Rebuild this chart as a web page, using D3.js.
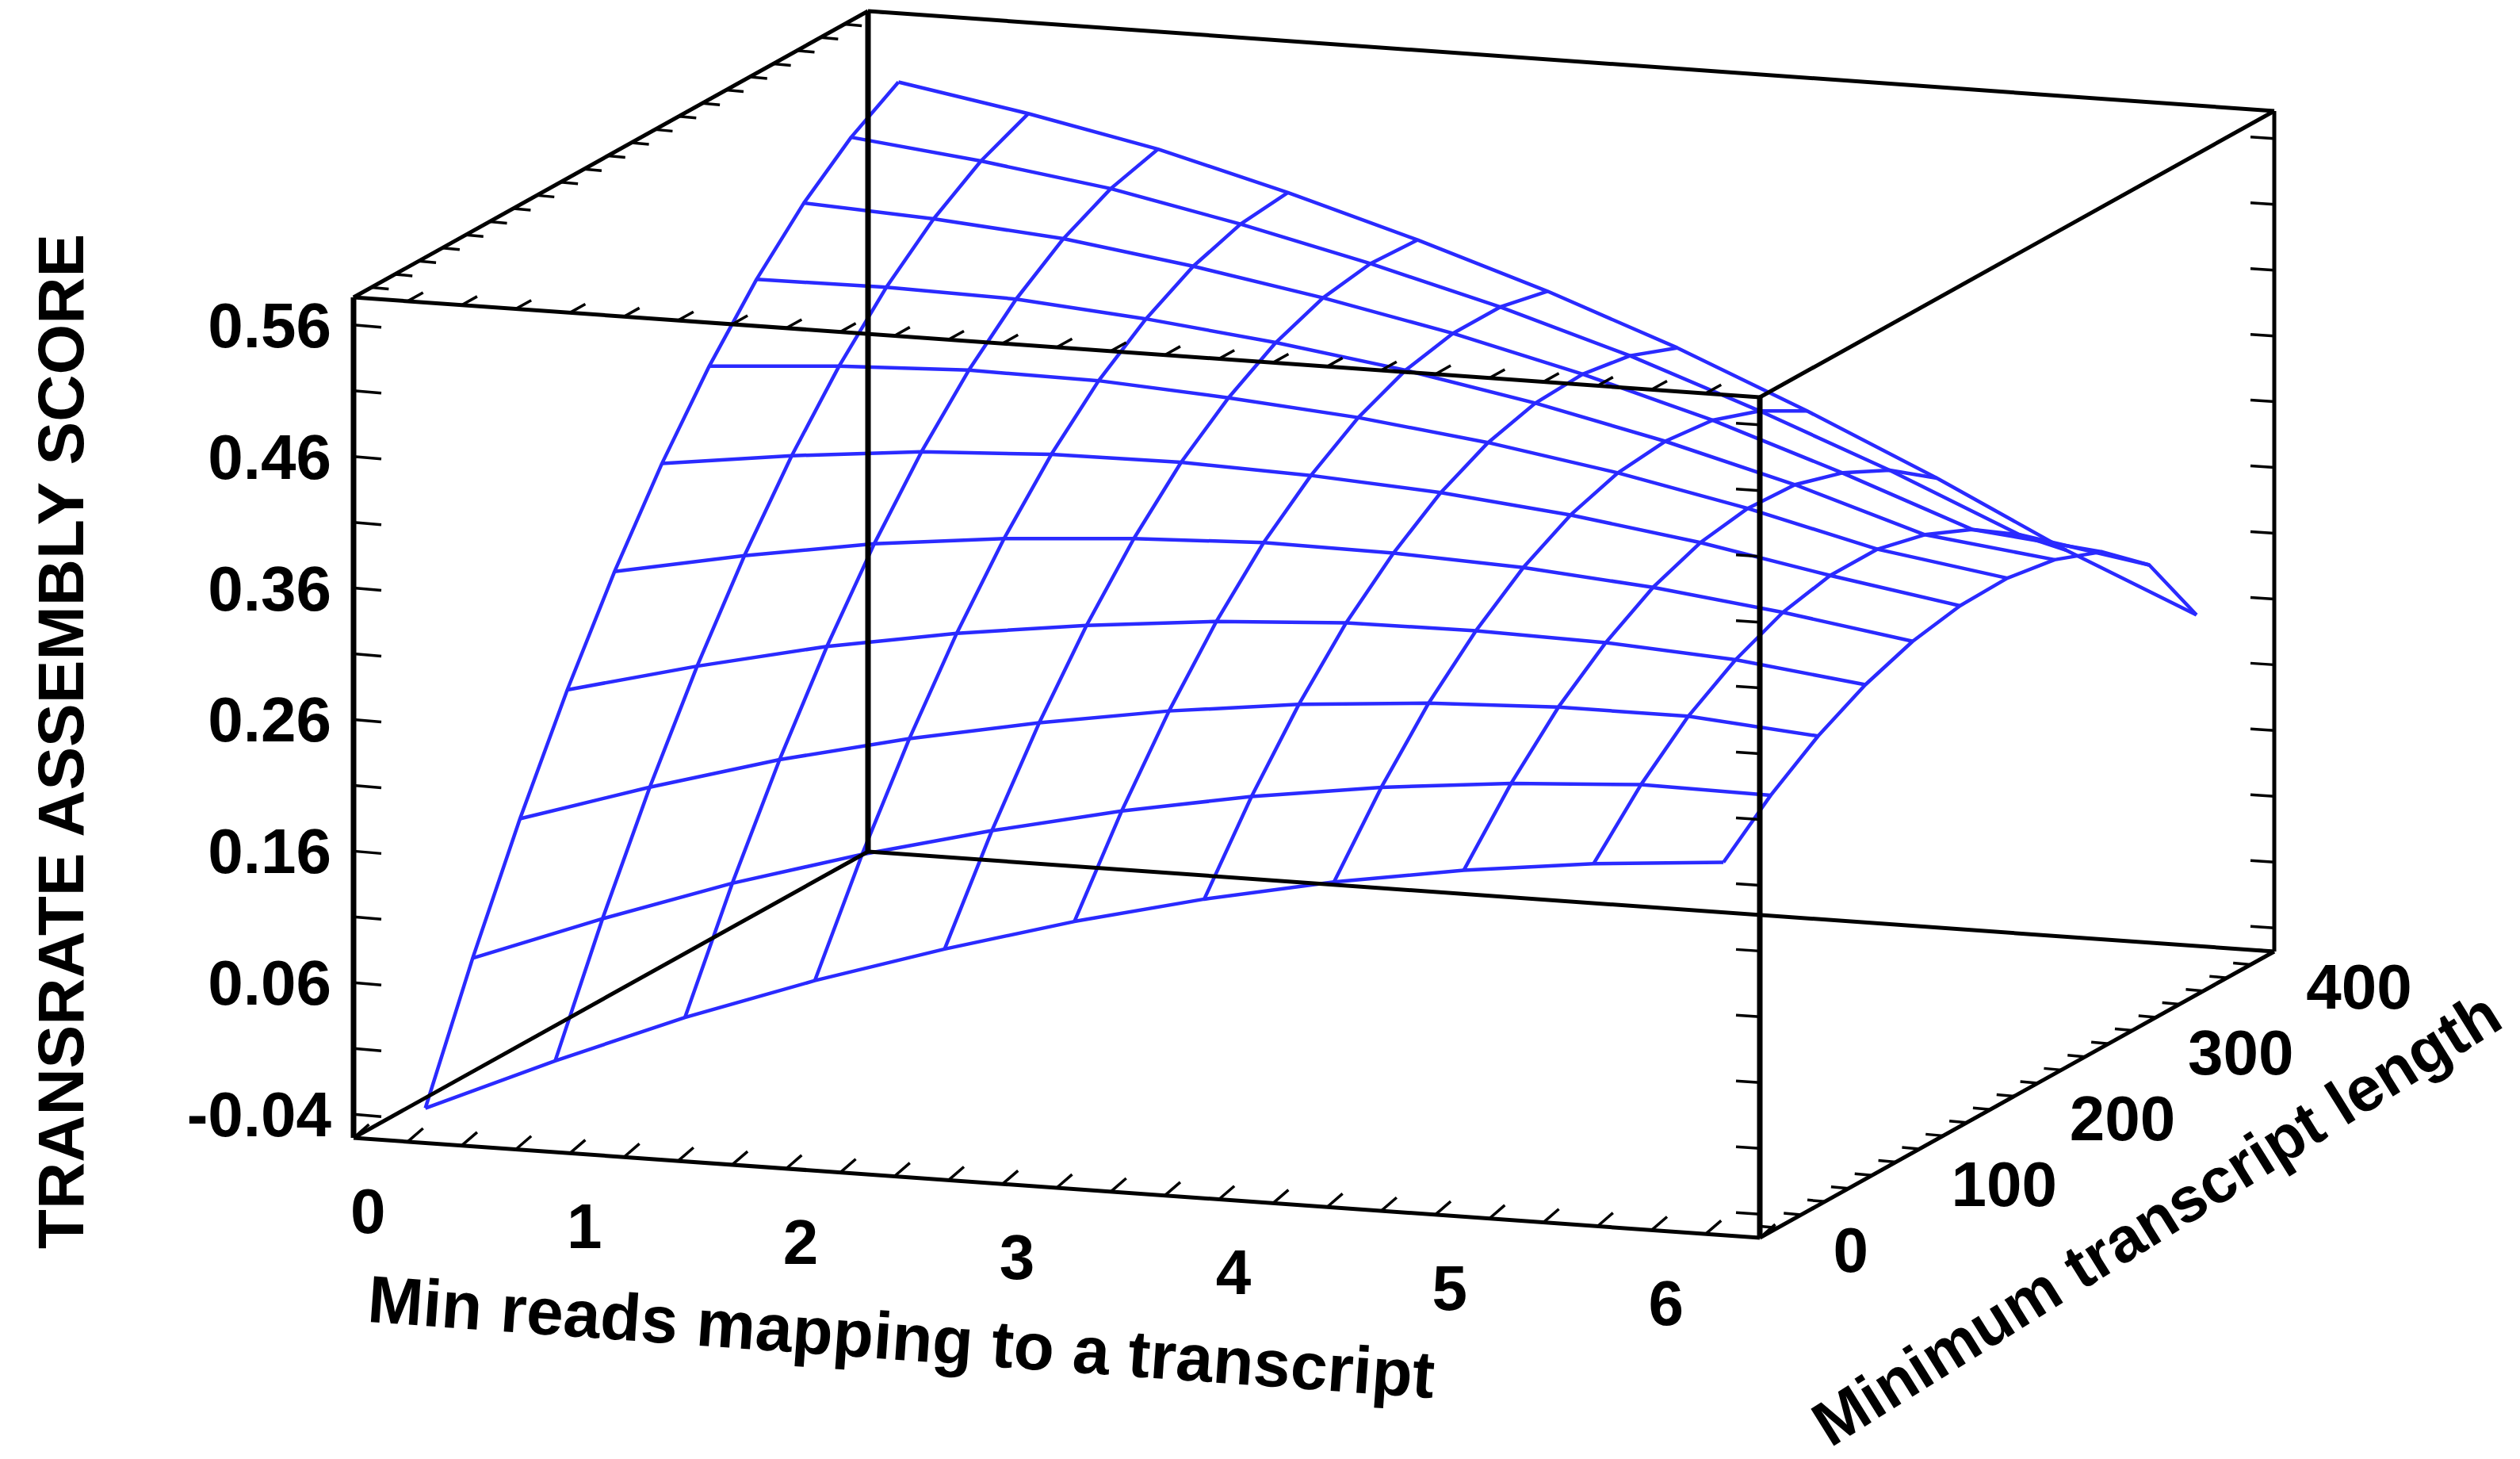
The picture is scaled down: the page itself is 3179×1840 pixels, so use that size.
<!doctype html>
<html>
<head>
<meta charset='utf-8'>
<style>
body{margin:0;background:#fff;}
text{font-family:'Liberation Sans',Arial,sans-serif;font-weight:bold;fill:#000;}
</style>
</head>
<body>
<div id='chart'></div>
<script src='https://cdn.jsdelivr.net/npm/d3@7/dist/d3.min.js'></script>
<script>

// grid of the fitted surface
const readsValues = [0, 0.6, 1.2, 1.8, 2.4, 3.0, 3.6, 4.2, 4.8, 5.4, 6.0];
const lengthValues = [0, 40, 80, 120, 160, 200, 240, 280, 320, 360, 400];
// score[i][j] : i = reads index, j = length index
const score = [
  [-0.040, 0.054, 0.140, 0.218, 0.288, 0.350, 0.404, 0.450, 0.488, 0.518, 0.540],
  [0.003, 0.091, 0.171, 0.243, 0.307, 0.363, 0.411, 0.451, 0.483, 0.507, 0.523],
  [0.043, 0.125, 0.199, 0.265, 0.323, 0.373, 0.415, 0.449, 0.475, 0.493, 0.503],
  [0.078, 0.154, 0.222, 0.282, 0.334, 0.378, 0.414, 0.441, 0.461, 0.473, 0.477],
  [0.109, 0.179, 0.241, 0.295, 0.341, 0.379, 0.408, 0.430, 0.444, 0.450, 0.448],
  [0.137, 0.201, 0.257, 0.305, 0.345, 0.376, 0.400, 0.416, 0.424, 0.424, 0.416],
  [0.161, 0.219, 0.269, 0.311, 0.344, 0.370, 0.388, 0.398, 0.400, 0.394, 0.380],
  [0.181, 0.233, 0.277, 0.312, 0.340, 0.360, 0.372, 0.376, 0.372, 0.359, 0.339],
  [0.197, 0.243, 0.281, 0.310, 0.332, 0.346, 0.352, 0.350, 0.339, 0.321, 0.295],
  [0.209, 0.249, 0.281, 0.304, 0.320, 0.328, 0.328, 0.319, 0.303, 0.279, 0.247],
  [0.217, 0.248, 0.273, 0.292, 0.305, 0.312, 0.313, 0.307, 0.293, 0.263, 0.205]
];
const readsTicks = [0, 1, 2, 3, 4, 5, 6];
const lengthTicks = [0, 100, 200, 300, 400];
const scoreTicks = [-0.04, 0.06, 0.16, 0.26, 0.36, 0.46, 0.56];

const W = 3179, H = 1840;
const origin = [446, 1435];           // front-bottom-left corner
const xVec = [1774, 126], yVec = [649, -361], zH = 1060;

const xs = d3.scaleLinear().domain([-0.25, 6.25]).range([0, 1]);
const ys = d3.scaleLinear().domain([-15, 420]).range([0, 1]);
const zs = d3.scaleLinear().domain([-0.058, 0.581]).range([0, 1]);

function proj(u, v, w){
  return [origin[0] + u*xVec[0] + v*yVec[0],
          origin[1] + u*xVec[1] + v*yVec[1] - w*zH];
}
function P(x, y, z){ return proj(xs(x), ys(y), zs(z)); }

const svg = d3.select('#chart').append('svg')
  .attr('width', W).attr('height', H);

const line = d3.line();

// surface mesh
const mesh = svg.append('g').attr('fill', 'none')
  .attr('stroke', '#2a2aff').attr('stroke-width', 4.5).attr('stroke-linejoin', 'round');
score.forEach((row, i) => {
  mesh.append('path').attr('d', line(row.map((z, j) => P(readsValues[i], lengthValues[j], z))));
});
lengthValues.forEach((len, j) => {
  mesh.append('path').attr('d', line(score.map((row, i) => P(readsValues[i], len, row[j]))));
});

// box
const corners = {};
[0,1].forEach(a => [0,1].forEach(b => [0,1].forEach(c => { corners[''+a+b+c] = proj(a,b,c); })));
const edges = [
  ['000','100'],['010','110'],['001','101'],['011','111'],
  ['000','010'],['100','110'],['001','011'],['101','111'],
  ['000','001'],['100','101'],['010','011'],['110','111']
];
const box = svg.append('g').attr('stroke', '#000').attr('fill', 'none');
edges.forEach(e => {
  const thick = (e[0] === '000' && e[1] === '001') || (e[0] === '100' && e[1] === '101') || (e[0] === '010' && e[1] === '011');
  box.append('path').attr('d', line([corners[e[0]], corners[e[1]]]))
    .attr('stroke-width', thick ? 7 : 5);
});

// ticks
const ticks = svg.append('g').attr('stroke', '#000').attr('stroke-width', 3.5);
function tick(p, d){ ticks.append('line').attr('x1', p[0]).attr('y1', p[1]).attr('x2', p[0]+d[0]).attr('y2', p[1]+d[1]); }
d3.range(-0.25, 6.26, 0.25).forEach(v => {
  const u = xs(v);
  tick(proj(u,0,0), [yVec[0]*0.03, yVec[1]*0.03 - 6]);
  tick(proj(u,0,1), [yVec[0]*0.03, yVec[1]*0.03]);
});
d3.range(0, 421, 20).forEach(v => {
  const t = ys(v);
  tick(proj(1,t,0), [-22, -2]);
  tick(proj(0,t,1), [22, 2]);
});
d3.range(-0.04, 0.58, 0.05).forEach(v => {
  const w = zs(v);
  tick(proj(0,0,w), [35, 3]);
  tick(proj(1,0,w), [-30, -2]);
  tick(proj(1,1,w), [-30, -2]);
});

// tick labels
const labels = svg.append('g').attr('font-size', 80);
scoreTicks.forEach(v => {
  const p = proj(0,0,zs(v));
  labels.append('text').attr('x', p[0] - 28).attr('y', p[1] + 28)
    .attr('text-anchor', 'end').text(v.toFixed(2));
});
readsTicks.forEach(v => {
  const p = proj(xs(v),0,0);
  labels.append('text').attr('x', p[0] - 50).attr('y', p[1] + 115)
    .attr('text-anchor', 'middle').text(v);
});
lengthTicks.forEach(v => {
  const p = proj(1,ys(v),0);
  labels.append('text').attr('x', p[0] + 70).attr('y', p[1] + 55)
    .attr('text-anchor', 'start').text(v);
});

// axis titles
svg.append('text').attr('font-size', 82).attr('text-anchor', 'middle')
  .attr('transform', 'translate(105,935) rotate(-90)')
  .text('TRANSRATE ASSEMBLY SCORE');
svg.append('text').attr('font-size', 84).attr('text-anchor', 'middle')
  .attr('transform', 'translate(1135,1715) rotate(4.1)')
  .text('Min reads mapping to a transcript');
svg.append('text').attr('font-size', 80).attr('text-anchor', 'middle')
  .attr('transform', 'translate(2735,1560) rotate(-32)')
  .text('Minimum transcript length');

</script>
</body>
</html>
